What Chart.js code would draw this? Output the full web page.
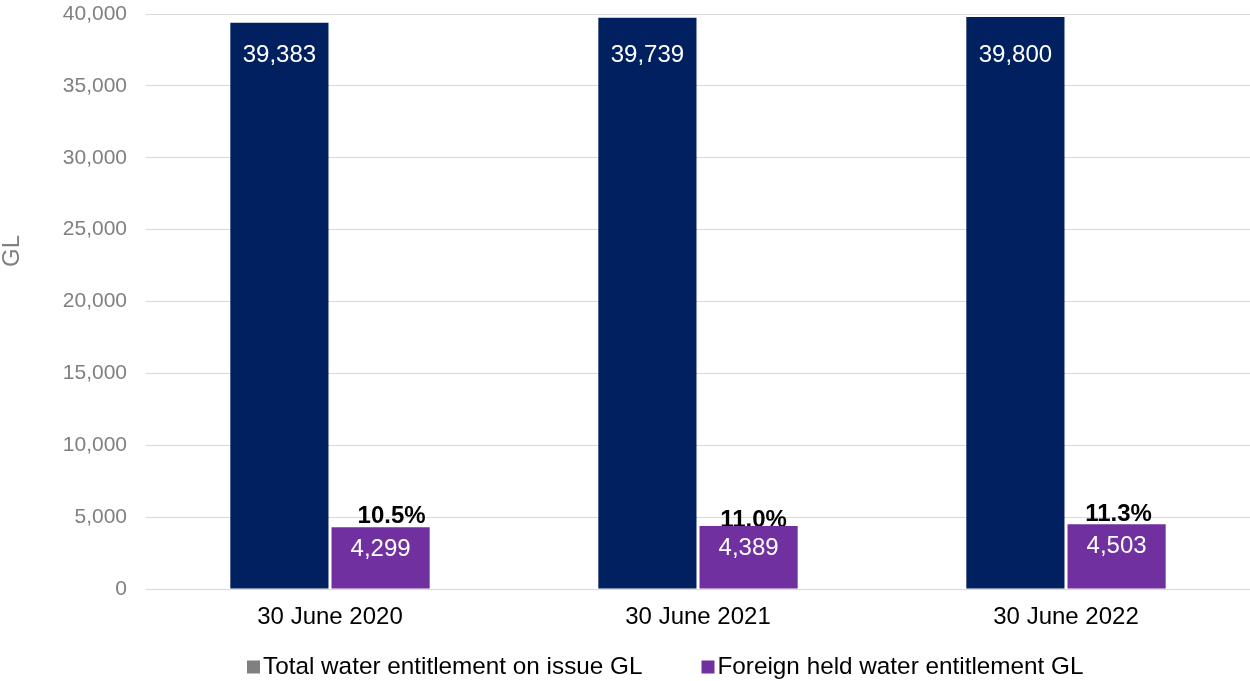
<!DOCTYPE html>
<html>
<head>
<meta charset="utf-8">
<script src="https://cdn.jsdelivr.net/npm/chart.js@4"></script>
<style>
  html, body { margin: 0; padding: 0; background: #ffffff; }
  #wrap { width: 1250px; height: 681px; }
</style>
</head>
<body>
<div id="wrap"><canvas id="c" width="1250" height="681"></canvas></div>
<script>
// ---- data ----
const categories = ['30 June 2020', '30 June 2021', '30 June 2022'];
const totalGL = [39383, 39739, 39800];
const foreignGL = [4299, 4389, 4503];
const foreignShare = ['10.5%', '11.0%', '11.3%'];
const seriesNames = ['Total water entitlement on issue GL', 'Foreign held water entitlement GL'];
const yMin = 0, yMax = 40000, yStep = 5000;
const yTitle = 'GL';

// ---- styles ----
const NAVY = '#002060';
const PURPLE = '#7030A0';
const LEGEND_GREY = '#808080';
const GRID = '#d9d9d9';
const FONT = '"Liberation Sans", Arial, sans-serif';
const fmt = v => v.toLocaleString('en-US');
// small hand-placed nudges of the percentage labels (as in the source chart)
const shareDx = [11, 5, 2];
const shareDy = [-4.5, 1, -3];

const labelPlugin = {
  id: 'valueLabels',
  beforeDatasetsDraw(chart) {
    const ctx = chart.ctx;
    const meta = chart.getDatasetMeta(1);
    meta.data.forEach((bar, j) => {
      ctx.save();
      ctx.fillStyle = '#000000';
      ctx.font = 'bold 24px ' + FONT;
      ctx.textAlign = 'center';
      ctx.textBaseline = 'alphabetic';
      ctx.fillText(foreignShare[j], bar.x + shareDx[j], bar.y + shareDy[j]);
      ctx.restore();
    });
  },
  afterDatasetsDraw(chart) {
    const ctx = chart.ctx;
    chart.data.datasets.forEach((ds, i) => {
      const meta = chart.getDatasetMeta(i);
      meta.data.forEach((bar, j) => {
        ctx.save();
        ctx.fillStyle = '#ffffff';
        ctx.font = '24px ' + FONT;
        ctx.textAlign = 'center';
        ctx.textBaseline = 'middle';
        const y = i === 0 ? chart.chartArea.top + 41.5 : bar.y + 22;
        ctx.fillText(fmt(ds.data[j]), bar.x, y);
        ctx.restore();
      });
    });
  },
  afterDraw(chart) {
    const ctx = chart.ctx;
    // y-axis title
    ctx.save();
    ctx.translate(12, 251);
    ctx.rotate(-Math.PI / 2);
    ctx.fillStyle = '#808080';
    ctx.font = '24px ' + FONT;
    ctx.textAlign = 'center';
    ctx.textBaseline = 'middle';
    ctx.fillText(yTitle, 0, 0);
    ctx.restore();
    // legend
    ctx.save();
    ctx.font = '24.3px ' + FONT;
    ctx.textBaseline = 'middle';
    ctx.textAlign = 'left';
    const cy = 667;
    let x = 247;
    const colors = [LEGEND_GREY, PURPLE];
    seriesNames.forEach((name, i) => {
      ctx.fillStyle = colors[i];
      ctx.fillRect(x, cy - 6.5, 13, 13);
      ctx.fillStyle = '#000000';
      ctx.fillText(name, x + 16, cy);
      x += 16 + ctx.measureText(name).width + 59;
    });
    ctx.restore();
  }
};

new Chart(document.getElementById('c'), {
  type: 'bar',
  data: {
    labels: categories,
    datasets: [
      { label: seriesNames[0], data: totalGL, backgroundColor: NAVY, borderWidth: 0 },
      { label: seriesNames[1], data: foreignGL, backgroundColor: PURPLE, borderWidth: 0 }
    ]
  },
  options: {
    responsive: false,
    animation: false,
    devicePixelRatio: 1,
    layout: { padding: { top: 14, bottom: 52, left: 0, right: 0 } },
    datasets: { bar: { categoryPercentage: 0.55, barPercentage: 0.97 } },
    plugins: {
      legend: { display: false },
      tooltip: { enabled: false },
      title: { display: false }
    },
    scales: {
      x: {
        grid: { display: false, drawTicks: false },
        border: { display: true, color: GRID, width: 1 },
        ticks: { color: '#000000', font: { family: FONT, size: 24 }, padding: 14 },
        afterFit(scale) { scale.height = 40; scale.paddingLeft = 0; scale.paddingRight = 0; }
      },
      y: {
        min: yMin, max: yMax,
        grid: { color: GRID, lineWidth: 1, drawTicks: false },
        border: { display: false },
        ticks: {
          stepSize: yStep,
          color: '#808080',
          font: { family: FONT, size: 21 },
          padding: 19,
          callback: v => fmt(v)
        },
        afterFit(scale) { scale.width = 146; scale.paddingTop = 0; scale.paddingBottom = 0; }
      }
    }
  },
  plugins: [labelPlugin]
});
</script>
</body>
</html>
